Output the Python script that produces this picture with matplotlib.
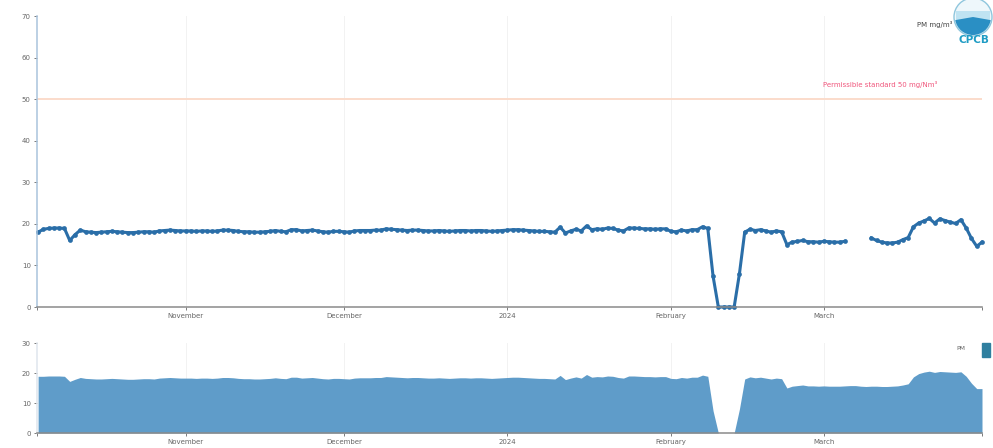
import matplotlib
matplotlib.use("Agg")
import matplotlib.pyplot as plt
from matplotlib.patches import Circle, Rectangle, Wedge
import pandas as pd

nan = float("nan")

# daily PM readings
oct_vals = [18.0, 18.7, 18.9, 19.0, 19.0, 18.9, 16.0, 17.4, 18.5, 18.1, 18.0, 17.9, 18.0, 18.1,
            18.2, 18.1, 18.0, 17.9, 17.9, 18.0, 18.1, 18.1, 18.0, 18.3, 18.4, 18.5, 18.4, 18.3]
nov_vals = [18.3, 18.3, 18.2, 18.3, 18.3, 18.2, 18.3, 18.5, 18.5, 18.4, 18.2, 18.1, 18.1, 18.0, 18.0,
            18.1, 18.2, 18.4, 18.2, 18.1, 18.6, 18.6, 18.3, 18.4, 18.5, 18.3, 18.1, 18.0, 18.2, 18.2]
dec_vals = [18.1, 18.0, 18.3, 18.4, 18.4, 18.4, 18.5, 18.5, 18.8, 18.7, 18.6, 18.5, 18.4, 18.5, 18.5, 18.4,
            18.3, 18.3, 18.4, 18.3, 18.2, 18.3, 18.4, 18.4, 18.3, 18.4, 18.4, 18.3, 18.2, 18.3, 18.4]
jan_vals = [18.5, 18.6, 18.6, 18.5, 18.4, 18.3, 18.2, 18.2, 18.1, 18.0, 19.2, 17.8, 18.3, 18.7, 18.3,
            19.5, 18.6, 18.8, 18.7, 19.0, 18.9, 18.5, 18.3, 19.0, 19.0, 18.9, 18.8, 18.8, 18.7, 18.8, 18.8]
feb_vals = [18.2, 18.1, 18.5, 18.3, 18.6, 18.6, 19.3, 18.9, 7.4, 0.0, 0.0, 0.0, 0.0, 8.0, 18.0,
            18.7, 18.4, 18.6, 18.3, 18.0, 18.3, 18.1, 15.0, 15.6, 15.8, 16.0, 15.7, 15.7, 15.6]
mar_vals = [15.8, 15.7, 15.6, 15.6, 15.8, nan, nan, nan, nan, 16.6, 16.0, 15.6, 15.4, 15.4, 15.6, 16.2,
            16.7, 19.3, 20.2, 20.7, 21.3, 20.2, 21.2, 20.8, 20.4, 20.1, 21.0, 19.0, 16.5, 14.6, 15.6]
pm_vals = oct_vals + nov_vals + dec_vals + jan_vals + feb_vals + mar_vals

# the lower overview chart has no gap, a shallower dip in October and a flatter top in March
oct_overview = [18.9, 18.9, 19.0, 19.0, 19.0, 18.9, 17.2, 17.9, 18.5, 18.2, 18.1, 18.0, 18.0, 18.1,
                18.2, 18.1, 18.0, 17.9, 17.9, 18.0, 18.1, 18.1, 18.0, 18.3, 18.4, 18.5, 18.4, 18.3]
mar_overview = [15.7, 15.6, 15.6, 15.6, 15.7, 15.8, 15.8, 15.6, 15.5, 15.6, 15.6, 15.5, 15.5, 15.6, 15.7, 16.0,
                16.4, 18.7, 19.8, 20.3, 20.6, 20.2, 20.5, 20.4, 20.3, 20.2, 20.4, 18.9, 16.6, 14.8, 14.8]
overview_vals = oct_overview + nov_vals + dec_vals + jan_vals + feb_vals + mar_overview

dates = pd.date_range("2023-10-04", "2024-03-31", freq="D")

month_ticks = pd.to_datetime(["2023-11-01", "2023-12-01", "2024-01-01", "2024-02-01", "2024-03-01"])
month_labels = ["November", "December", "2024", "February", "March"]
main_yticks = [0, 10, 20, 30, 40, 50, 60, 70]
overview_yticks = [0, 10, 20, 30]
standard = 50

W, H = 993, 448
TXT = "#666666"
LINE = "#2a6ea8"
FILL = "#5f9cc9"
x_start = pd.Timestamp("2023-10-03 19:00")
x_end = pd.Timestamp("2024-03-31 00:00")


def box(left, top, right, bottom):
    return [left / W, 1 - bottom / H, (right - left) / W, (bottom - top) / H]


def style_axis(ax, yticks):
    ax.set_xlim(x_start, x_end)
    ax.set_yticks(yticks)
    ax.set_xticks(month_ticks)
    ax.set_xticklabels(month_labels)
    ax.set_xticks([x_start, x_end], minor=True)
    ax.tick_params(which="both", labelsize=5, colors=TXT, length=2.5, width=0.6, pad=2)
    for side in ["top", "right"]:
        ax.spines[side].set_visible(False)
    ax.spines["bottom"].set_color("#8a8a8a")
    ax.spines["bottom"].set_linewidth(1.1)
    ax.spines["left"].set_color("#a9c3dc")
    ax.spines["left"].set_linewidth(1.1)
    ax.grid(axis="x", color="#f2f2f2", linewidth=0.7)
    ax.set_axisbelow(True)


fig = plt.figure(figsize=(W / 100, H / 100), dpi=100)

ax = fig.add_axes(box(37, 16, 982, 307))
ax.set_ylim(0, 70)
style_axis(ax, main_yticks)
ax.axhline(standard, color="#fbdccb", linewidth=1.4)
ax.plot(dates, pm_vals, color=LINE, linewidth=2.2, marker="o", markersize=3.4, markeredgewidth=0, clip_on=False)

ax2 = fig.add_axes(box(37, 343, 982, 433))
ax2.set_ylim(0, 30)
style_axis(ax2, overview_yticks)
ax2.fill_between(dates, overview_vals, color=FILL, linewidth=0)
ax2.spines["left"].set_color("#dfe6ee")

# labels placed by pixel position
fig.text(880 / W, 1 - 85 / H, "Permissible standard 50 mg/Nm³", fontsize=5, color="#f0567c", ha="center", va="center")
fig.text(935 / W, 1 - 25 / H, "PM mg/m³", fontsize=5, color="#444444", ha="center", va="center")
fig.text(961 / W, 1 - 349 / H, "PM", fontsize=4.5, color="#666666", ha="center", va="center")
fig.add_artist(Rectangle((982 / W, 1 - 357 / H), 8 / W, 14 / H, transform=fig.transFigure, color="#2f7f9f"))

# CPCB logo, drawn in pixel coordinates
logo = fig.add_axes([0, 0, 1, 1], facecolor="none")
logo.set_xlim(0, W)
logo.set_ylim(H, 0)
logo.axis("off")
logo.add_patch(Circle((973, 17), 19, facecolor="#eef7fb", edgecolor="#8fc6dd", linewidth=1))
logo.add_patch(Rectangle((956, 11), 34, 9, facecolor="#bfe3f2", linewidth=0))
logo.add_patch(Wedge((973, 17), 18, 10, 170, facecolor="#2a8fc4", linewidth=0))
logo.text(974, 40, "CPCB", fontsize=7.5, fontweight="bold", color="#1f9cc4", ha="center", va="center")

fig.savefig("out.png", dpi=100)
